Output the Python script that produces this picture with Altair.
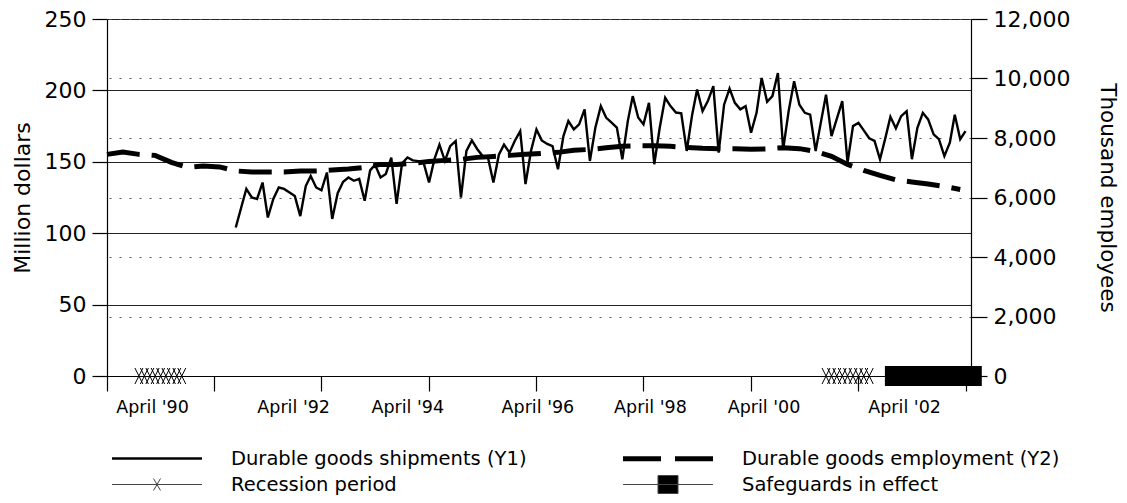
import altair as alt
import pandas as pd

# ---------------- data ----------------
# Durable goods shipments (million dollars, left axis), monthly from Jan 1992
ship_start = "1992-01-01"
shipments = [104, 118, 131, 125, 124, 135.5, 111, 124, 132, 131, 128.5, 126,
             112, 133, 140, 132, 130, 142.5, 110, 128, 136, 139, 136.7, 138,
             122.7, 144, 148, 139, 141.5, 153, 120.6, 149, 153, 151, 150.5, 149.4,
             135.5, 152, 162, 150.6, 161, 164.6, 125, 157.6, 165, 159, 154, 153,
             135.5, 155, 162, 156.4, 164.6, 171.5, 134.4, 157.6, 172.7, 165, 162.5, 161,
             144.8, 168, 178.5, 172.7, 176.2, 186.7, 150.6, 173.8, 189, 181, 177.5, 174,
             151.8, 178.5, 196, 181, 176.2, 191.3, 148.3, 173.8, 194.8, 189, 184.5, 184,
             157.6, 183, 200.6, 185.5, 192.5, 203, 156.4, 190, 201.3, 191.3, 186.7, 189,
             170.4, 184.3, 208.7, 192, 196, 212.2, 158.8, 185.5, 206.4, 190, 184.3, 183,
             157.6, 178.5, 197, 168, 180, 192.5, 149.4, 175, 177.3, 172, 166.5, 164.6,
             151.8, 166.9, 181.5, 173.5, 182, 185.5, 151.8, 173.8, 184.3, 179.7, 169.2, 165.8,
             154, 163.4, 183, 165.8, 171.5]

# Durable goods employment (thousand employees, right axis), every 3 months from Jan 1990
emp_start = "1990-01-01"
emp_step_months = 3
employment = [7450, 7530, 7450, 7416, 7180, 7012, 7062, 7029,
              6894, 6854, 6854, 6860, 6887, 6894, 6927, 6955,
              7012, 7113, 7113, 7147, 7214, 7248, 7281, 7349,
              7382, 7416, 7450, 7484, 7517, 7585, 7618, 7669,
              7720, 7736, 7736, 7720, 7686, 7652, 7642, 7642,
              7618, 7635, 7676, 7642, 7551, 7382, 7113, 6911,
              6742, 6590, 6523, 6455, 6371, 6270]

# Period markers (first month, last month)
recession_periods = [("1990-07-01", "1991-03-01"), ("2001-03-01", "2001-11-01")]
safeguard_periods = [("2002-03-01", "2003-07-01")]

# Axes
x_domain = ("1990-01-01", "2003-06-01")
x_tick_dates = ["1990-01-01", "1991-09-01", "1993-05-01", "1995-01-01", "1996-09-01",
                "1998-05-01", "2000-01-01", "2001-09-01", "2003-05-01"]
x_label_dates = ["1990-09-13", "1992-11-21", "1994-08-30", "1996-09-06",
                 "1998-06-06", "2000-03-11", "2002-05-17"]
left_ticks = [0, 50, 100, 150, 200, 250]
right_ticks = [0, 2000, 4000, 6000, 8000, 10000, 12000]

# legend entries (listed column by column: left column, then right column)
series = ["Durable goods shipments (Y1)", "Recession period",
          "Durable goods employment (Y2)", "Safeguards in effect"]

# ---------------- helpers ----------------
def month_seq(start, n, step=1):
    s = pd.Timestamp(start)
    return [(s + pd.DateOffset(months=i * step)).strftime("%Y-%m-%d") for i in range(n)]


def month_span(a, b):
    return pd.date_range(a, b, freq="MS").strftime("%Y-%m-%d").tolist()


def dt(s, hours=0):
    t = pd.Timestamp(s)
    return alt.DateTime(year=t.year, month=t.month, date=t.day, hours=hours, utc=True)


ship_df = pd.DataFrame({"date": month_seq(ship_start, len(shipments)), "value": shipments})
emp_df = pd.DataFrame({"date": month_seq(emp_start, len(employment), emp_step_months),
                       "value": employment})
rec_df = pd.DataFrame({"date": [d for a, b in recession_periods for d in month_span(a, b)]})
rec_df["value"] = 0
safe_df = pd.DataFrame({"date": [d for a, b in safeguard_periods for d in month_span(a, b)]})
safe_df["value"] = 0
leg_df = pd.DataFrame({"series": series})

FONT = "DejaVu Sans"

x_scale = alt.Scale(type="utc", domain=[dt(x_domain[0]), dt(x_domain[1])])
left_scale = alt.Scale(domain=[0, 250])

x_axis = alt.Axis(
    values=[dt(d) for d in x_tick_dates] + [dt(d, 12) for d in x_label_dates],
    title=None, grid=False,
    domainColor="black", domainWidth=1.2,
    tickColor="black", tickWidth=1.2, tickSize=15,
    tickOpacity={"condition": {"test": "utchours(datum.value) == 12", "value": 0}, "value": 1},
    labelExpr="utchours(datum.value) == 12 ? \"April '\" + utcFormat(datum.value, '%y') : ''",
    labelFont=FONT, labelFontSize=17.5, labelColor="black", labelPadding=7,
    labelOverlap=False, labelFlush=False,
)

y_left_axis = alt.Axis(
    orient="left", values=left_ticks, title="Million dollars",
    grid=True, gridColor="#222222", gridWidth=1.1,
    domainColor="black", domainWidth=1.2, tickColor="black", tickWidth=1.2, tickSize=15,
    labelFont=FONT, labelFontSize=22, labelColor="black", labelPadding=6, labelFlush=False,
    titleFont=FONT, titleFontSize=22, titleFontWeight="normal", titleColor="black",
    titlePadding=10,
)

y_right_axis = alt.Axis(
    orient="right", values=right_ticks, format=",d", title="Thousand employees",
    grid=True, gridColor="#555555", gridDash=[2, 8], gridWidth=1.2,
    domainColor="black", domainWidth=1.2, tickColor="black", tickWidth=1.2, tickSize=16,
    labelFont=FONT, labelFontSize=22, labelColor="black", labelPadding=6, labelFlush=False,
    titleFont=FONT, titleFontSize=21.5, titleFontWeight="normal", titleColor="black",
    titlePadding=26,
)

# the same x encoding (scale and axis) in every layer so that one shared x axis is drawn
X = alt.X("date:T", scale=x_scale, axis=x_axis)

ship_line = alt.Chart(ship_df).mark_line(color="black", strokeWidth=2.4).encode(
    x=X, y=alt.Y("value:Q", scale=left_scale, axis=y_left_axis)
)

rec_pts = alt.Chart(rec_df).mark_point(
    shape="M-0.5,-1L0.5,1M0.5,-1L-0.5,1", size=256, color="black",
    strokeWidth=1, filled=False, opacity=1
).encode(x=X, y=alt.Y("value:Q", scale=left_scale, axis=None))

safe_pts = alt.Chart(safe_df).mark_point(
    shape="M-0.55,-1H0.55V1H-0.55Z", size=400, color="black", filled=True, opacity=1
).encode(x=X, y=alt.Y("value:Q", scale=left_scale, axis=None))

legend_paths = [
    "M-4.5,0H4.5",
    "M-4.5,0H4.5M-0.35,-0.6L0.35,0.6M0.35,-0.6L-0.35,0.6",
    "M-4.5,0H-0.7M0.7,0H4.5",
    "M-4.5,0H4.5M-1,-0.9H1V0.9H-1Z",
]

leg = alt.Legend(
    title=None, orient="none", legendX=4, legendY=427, columns=2,
    columnPadding=86, rowPadding=4, padding=0,
    symbolSize=400, symbolOffset=33.5, labelOffset=61.5,
    symbolOpacity=1, symbolFillColor="black",
    labelFont=FONT, labelFontSize=19.5, labelColor="black", labelLimit=600,
)

legend_layer = alt.Chart(leg_df).mark_point(size=400, opacity=0, filled=True, fill="black").encode(
    shape=alt.Shape("series:N", scale=alt.Scale(domain=series, range=legend_paths), legend=leg),
    strokeWidth=alt.StrokeWidth("series:N", scale=alt.Scale(type="ordinal", domain=series,
                                                            range=[2.5, 1, 5, 1]), legend=leg),
    stroke=alt.Stroke("series:N", scale=alt.Scale(domain=series,
                                                 range=["black", "#444444", "black", "#444444"]),
                      legend=leg),
)

emp_line = alt.Chart(emp_df).mark_line(
    color="black", strokeWidth=5, strokeDash=[33, 12], strokeCap="butt"
).encode(
    x=X, y=alt.Y("value:Q", scale=alt.Scale(domain=[0, 12000]), axis=y_right_axis)
)

chart = alt.layer(ship_line, rec_pts, safe_pts, legend_layer, emp_line).resolve_scale(
    y="independent"
).properties(
    width=864, height=357,
    padding={"left": 99, "top": 11, "right": 148, "bottom": 119},
    autosize=alt.AutoSizeParams(type="none"),
    background="white",
).configure_view(stroke=None)

chart.save("out.html", embed_options={"renderer": "svg", "actions": False})
